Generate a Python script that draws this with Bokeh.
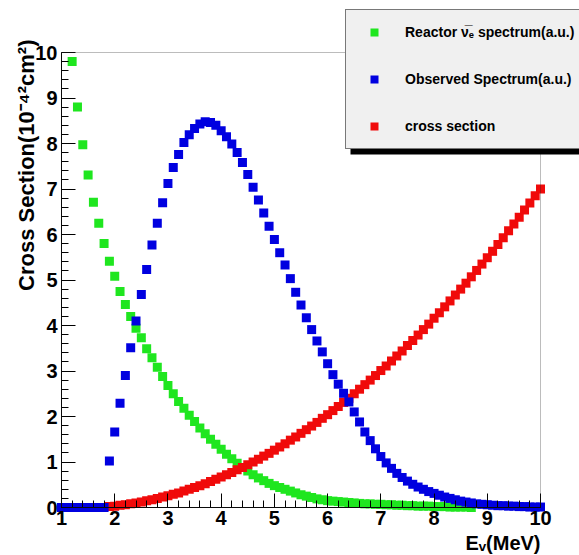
import math
from bokeh.plotting import figure
from bokeh.models import (Range1d, Legend, LegendItem, FixedTicker, ColumnDataSource,
                          LinearAxis, BoxAnnotation, Label)
from bokeh.embed import file_html
from bokeh.resources import INLINE

# ---- data ----
E_STEP = 0.1

green_start = 1.2   # Reactor anti-nu_e spectrum (a.u.)
green_values = [9.80, 8.80, 7.97, 7.31, 6.71, 6.25, 5.80, 5.41, 5.08, 4.75,
                4.46, 4.20, 3.94, 3.73, 3.49, 3.29, 3.08, 2.88, 2.68, 2.50,
                2.33, 2.18, 2.03, 1.89, 1.75, 1.62, 1.50, 1.39, 1.28, 1.17,
                1.07, 0.97, 0.88, 0.80, 0.72, 0.65, 0.59, 0.53, 0.48, 0.44,
                0.40, 0.36, 0.32, 0.28, 0.25, 0.22, 0.19, 0.17, 0.15, 0.14,
                0.13, 0.12, 0.11, 0.10, 0.09, 0.08, 0.08, 0.07, 0.07, 0.06,
                0.06, 0.05, 0.05, 0.04, 0.04, 0.03, 0.03, 0.03, 0.02, 0.02,
                0.02, 0.01, 0.01, 0.01, 0.01, 0.00]

blue_start = 1.0    # Observed spectrum (a.u.)
blue_values = [0.00, 0.00, 0.00, 0.00, 0.00, 0.00, 0.00, 0.00, 0.00,
               1.02, 1.66, 2.29, 2.90, 3.51, 4.10, 4.68, 5.23, 5.77, 6.25,
               6.70, 7.12, 7.47, 7.76, 8.02, 8.19, 8.33, 8.43, 8.48, 8.46,
               8.40, 8.28, 8.15, 7.99, 7.80, 7.58, 7.32, 7.04, 6.76, 6.47,
               6.18, 5.89, 5.60, 5.33, 5.03, 4.73, 4.45, 4.17, 3.91, 3.66,
               3.42, 3.16, 2.92, 2.71, 2.51, 2.32, 2.10, 1.88, 1.66, 1.47,
               1.29, 1.12, 0.98, 0.86, 0.75, 0.66, 0.58, 0.51, 0.45, 0.40,
               0.35, 0.31, 0.27, 0.23, 0.20, 0.17, 0.14, 0.12, 0.10, 0.08,
               0.07, 0.06, 0.05, 0.04, 0.04, 0.03, 0.03, 0.02, 0.02, 0.01,
               0.01, 0.01]

red_start = 1.9     # cross section (10^-42 cm^2)
red_values = [0.02, 0.03, 0.05, 0.06, 0.08, 0.10, 0.12, 0.15, 0.17, 0.20,
              0.23, 0.26, 0.29, 0.32, 0.36, 0.40, 0.44, 0.48, 0.52, 0.57,
              0.62, 0.67, 0.72, 0.77, 0.83, 0.88, 0.94, 1.00, 1.06, 1.13,
              1.19, 1.26, 1.33, 1.40, 1.48, 1.55, 1.63, 1.71, 1.79, 1.87,
              1.96, 2.04, 2.13, 2.22, 2.31, 2.40, 2.50, 2.60, 2.70, 2.80,
              2.90, 3.01, 3.11, 3.22, 3.33, 3.44, 3.56, 3.67, 3.79, 3.91,
              4.03, 4.16, 4.28, 4.41, 4.54, 4.67, 4.80, 4.93, 5.07, 5.21,
              5.35, 5.49, 5.63, 5.78, 5.93, 6.08, 6.23, 6.38, 6.54, 6.69,
              6.85, 7.00]

x_ticks = [1, 2, 3, 4, 5, 6, 7, 8, 9, 10]
y_ticks = [0, 1, 2, 3, 4, 5, 6, 7, 8, 9, 10]
minor_step = 0.2

labels = ["Reactor \u03bd\u0305\u2091 spectrum(a.u.)",
          "Observed Spectrum(a.u.)",
          "cross section"]
x_title = "E\u1d65(MeV)"
y_title = "Cross Section(10\u207b\u2074\u00b2cm\u00b2)"
colors = {"green": "#1fe61f", "blue": "#0000e0", "red": "#f00a0a"}

# ---- layout (pixels of the 579x555 page) ----
W, H = 579, 555
FL, FR, FT, FB = 61, 540, 52, 507          # plot frame edges
X0, X1, Y0, Y1 = 1, 10, 0, 10              # axis limits
xpp = (X1 - X0) / (FR - FL)
ypp = (Y1 - Y0) / (FB - FT)


def px_x(px):
    return X0 + (px - FL) * xpp


def px_y(py):
    return Y0 + (FB - py) * ypp


def energies(start, n):
    return [round(start + E_STEP * i, 2) for i in range(n)]


green_src = ColumnDataSource(dict(x=energies(green_start, len(green_values)), y=green_values))
blue_src = ColumnDataSource(dict(x=energies(blue_start, len(blue_values)), y=blue_values))
red_src = ColumnDataSource(dict(x=energies(red_start, len(red_values)), y=red_values))

FONT = "Liberation Sans"

p = figure(width=W, height=H, output_backend="svg", toolbar_location=None,
           x_range=Range1d(px_x(0), px_x(W)), y_range=Range1d(px_y(H), px_y(0)),
           x_axis_location=None, y_axis_location=None,
           min_border=0, min_border_left=0, min_border_right=0,
           min_border_top=0, min_border_bottom=0,
           background_fill_color="white", border_fill_color="white")
p.grid.visible = False
p.outline_line_color = None

rg = p.scatter("x", "y", source=green_src, marker="square", size=9,
               fill_color=colors["green"], line_color=None)
rr = p.scatter("x", "y", source=red_src, marker="square", size=9,
               fill_color=colors["red"], line_color=None)
rb = p.scatter("x", "y", source=blue_src, marker="square", size=9,
               fill_color=colors["blue"], line_color=None)

# frame box
p.add_layout(BoxAnnotation(left=X0, right=X1, bottom=Y0, top=Y1,
                           fill_alpha=0, line_color="#222222", line_width=1))

x_minor = [round(X0 + minor_step * i, 2) for i in range(46)]
y_minor = [round(Y0 + minor_step * i, 2) for i in range(51)]

xaxis = LinearAxis(fixed_location=Y0, bounds=(X0, X1),
                   ticker=FixedTicker(ticks=x_ticks, minor_ticks=x_minor))
yaxis = LinearAxis(fixed_location=X0, bounds=(Y0, Y1),
                   ticker=FixedTicker(ticks=y_ticks, minor_ticks=y_minor))
for ax in (xaxis, yaxis):
    ax.major_tick_in = 14
    ax.major_tick_out = 0
    ax.minor_tick_in = 7
    ax.minor_tick_out = 0
    ax.axis_line_color = "black"
    ax.major_tick_line_color = "black"
    ax.minor_tick_line_color = "black"
    ax.major_label_text_font = FONT
    ax.major_label_text_font_style = "bold"
    ax.major_label_text_font_size = "20px"
    ax.major_label_text_color = "black"
xaxis.major_label_standoff = 3
yaxis.major_label_standoff = 4
p.add_layout(xaxis, "below")
p.add_layout(yaxis, "left")

# axis titles (ROOT style: aligned at the axis end)
p.add_layout(Label(x=X1, y=px_y(542), text=x_title, text_align="right",
                   text_baseline="middle", text_font=FONT, text_font_style="bold",
                   text_font_size="20px", text_color="black"))
p.add_layout(Label(x=px_x(26), y=px_y(39), text=y_title, angle=math.pi / 2,
                   text_align="right", text_baseline="middle", text_font=FONT,
                   text_font_style="bold", text_font_size="22px", text_color="black"))

# legend with ROOT-like shadow
LEG_LEFT, LEG_TOP, LEG_BOTTOM, SHADOW = 345, 8, 149, 5
p.add_layout(BoxAnnotation(left=px_x(LEG_LEFT + SHADOW), right=px_x(W + 20),
                           top=px_y(LEG_TOP + SHADOW), bottom=px_y(LEG_BOTTOM + SHADOW),
                           fill_color="black", fill_alpha=1, line_color=None))

legend = Legend(items=[LegendItem(label=labels[0], renderers=[rg]),
                       LegendItem(label=labels[1], renderers=[rb]),
                       LegendItem(label=labels[2], renderers=[rr])],
                location=(LEG_LEFT, H - LEG_BOTTOM),
                margin=0, padding=12, spacing=27, glyph_width=32, glyph_height=20,
                label_height=20, label_standoff=15, label_text_font=FONT,
                label_text_font_style="bold", label_text_font_size="14px",
                label_text_color="black", background_fill_alpha=1,
                background_fill_color="#f0f0f0", border_line_color="black",
                border_line_width=1)
p.add_layout(legend)

open("out.html", "w").write(file_html(p, INLINE))
